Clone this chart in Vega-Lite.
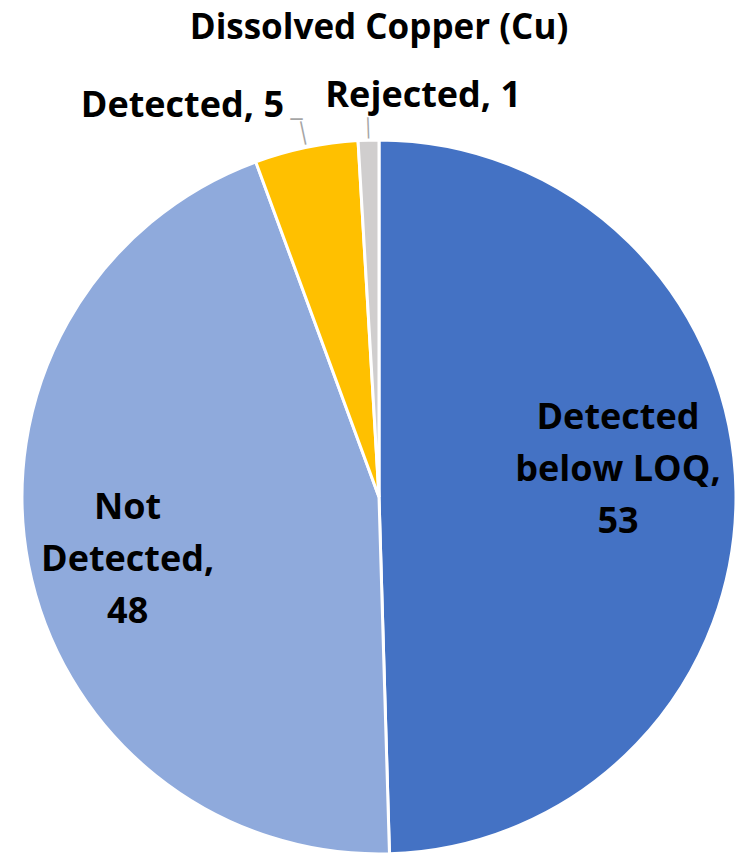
{
  "$schema": "https://vega.github.io/schema/vega-lite/v6.json",
  "width": 714,
  "height": 714,
  "autosize": {"type": "none"},
  "padding": {"left": 22, "top": 140, "right": 0, "bottom": 1},
  "background": "white",
  "title": {
    "text": "Dissolved Copper (Cu)",
    "font": "Open Sans",
    "fontSize": 35,
    "fontWeight": "bold",
    "color": "black",
    "anchor": "middle",
    "baseline": "alphabetic",
    "offset": 4
  },
  "view": {"stroke": null},
  "data": {
    "values": [
      {"category": "Detected below LOQ", "count": 53, "slice": 1, "lines": ["Detected", "below LOQ,", "53"]},
      {"category": "Not Detected", "count": 48, "slice": 2, "lines": ["Not", "Detected,", "48"]},
      {"category": "Detected", "count": 5, "slice": 3, "lines": ["Detected, 5"]},
      {"category": "Rejected", "count": 1, "slice": 4, "lines": ["Rejected, 1"]}
    ]
  },
  "encoding": {
    "theta": {"field": "count", "type": "quantitative", "stack": true},
    "order": {"field": "slice", "type": "quantitative"},
    "detail": {"field": "category", "type": "nominal"}
  },
  "layer": [
    {
      "mark": {"type": "arc", "radius": 357, "stroke": "white", "strokeWidth": 3},
      "encoding": {
        "color": {
          "field": "category",
          "type": "nominal",
          "scale": {
            "domain": ["Detected below LOQ", "Not Detected", "Detected", "Rejected"],
            "range": ["#4472C4", "#8FAADC", "#FFC000", "#D0CECE"]
          },
          "legend": null
        }
      }
    },
    {
      "mark": {"type": "text", "radius": 239, "dy": -75, "font": "Open Sans", "fontSize": 36, "fontWeight": "bold", "lineHeight": 52, "color": "black", "align": "center", "baseline": "middle"},
      "encoding": {"text": {"condition": {"test": "datum.category === 'Detected below LOQ'", "field": "lines"}, "value": ""}}
    },
    {
      "mark": {"type": "text", "radius": 256, "dy": -38, "font": "Open Sans", "fontSize": 36, "fontWeight": "bold", "lineHeight": 52, "color": "black", "align": "center", "baseline": "middle"},
      "encoding": {"text": {"condition": {"test": "datum.category === 'Not Detected'", "field": "lines"}, "value": ""}}
    },
    {
      "mark": {"type": "text", "radius": 400, "dx": -115, "dy": 1, "font": "Open Sans", "fontSize": 36, "fontWeight": "bold", "color": "black", "align": "center", "baseline": "middle"},
      "encoding": {"text": {"condition": {"test": "datum.category === 'Detected'", "field": "lines"}, "value": ""}}
    },
    {
      "mark": {"type": "text", "radius": 402, "dx": 56, "dy": 1, "font": "Open Sans", "fontSize": 36, "fontWeight": "bold", "color": "black", "align": "center", "baseline": "middle"},
      "encoding": {"text": {"condition": {"test": "datum.category === 'Rejected'", "field": "lines"}, "value": ""}}
    },
    {
      "mark": {"type": "text", "radius": 368, "angle": -2, "font": "DejaVu Sans", "fontSize": 18, "color": "#A5A5A5", "align": "center", "baseline": "middle"},
      "encoding": {"text": {"condition": {"test": "datum.category === 'Rejected'", "value": "│"}, "value": ""}}
    },
    {
      "mark": {"type": "text", "radius": 371, "angle": -12, "font": "DejaVu Sans", "fontSize": 20, "color": "#A5A5A5", "align": "center", "baseline": "middle"},
      "encoding": {"text": {"condition": {"test": "datum.category === 'Detected'", "value": "│"}, "value": ""}}
    },
    {
      "mark": {"type": "text", "radius": 385, "dx": -4, "font": "DejaVu Sans", "fontSize": 20, "color": "#A5A5A5", "align": "center", "baseline": "middle"},
      "encoding": {"text": {"condition": {"test": "datum.category === 'Detected'", "value": "─"}, "value": ""}}
    }
  ]
}
